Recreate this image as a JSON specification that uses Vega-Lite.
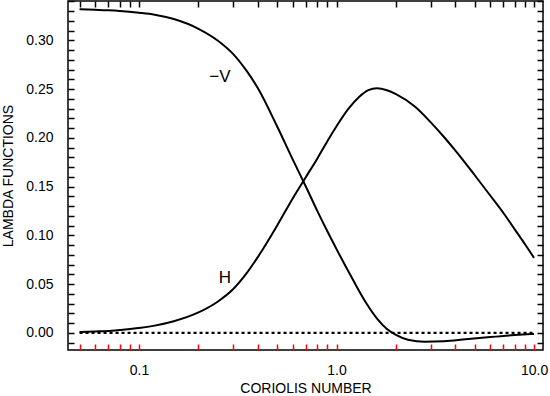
{
  "$schema": "https://vega.github.io/schema/vega-lite/v6.json",
  "width": 475,
  "height": 349,
  "autosize": {"type": "none"},
  "padding": {"left": 68, "top": 1, "right": 7, "bottom": 46},
  "background": "white",
  "config": {
    "view": {"stroke": "black", "strokeWidth": 1.5},
    "axis": {
      "grid": false,
      "domain": false,
      "labelFont": "Liberation Sans",
      "labelFontSize": 14,
      "labelColor": "black",
      "titleFont": "Liberation Sans",
      "titleFontSize": 14,
      "titleFontWeight": "normal",
      "titleColor": "black"
    }
  },
  "datasets": {
    "H": [
      {"x": 0.05, "y": 0.001}, {"x": 0.06, "y": 0.0015}, {"x": 0.07, "y": 0.002}, {"x": 0.08, "y": 0.003},
      {"x": 0.1, "y": 0.005}, {"x": 0.12, "y": 0.0075}, {"x": 0.15, "y": 0.012}, {"x": 0.2, "y": 0.021},
      {"x": 0.25, "y": 0.032}, {"x": 0.3, "y": 0.045}, {"x": 0.35, "y": 0.061}, {"x": 0.4, "y": 0.078},
      {"x": 0.5, "y": 0.11}, {"x": 0.6, "y": 0.138}, {"x": 0.7, "y": 0.16}, {"x": 0.8, "y": 0.179},
      {"x": 0.9, "y": 0.197}, {"x": 1.0, "y": 0.212}, {"x": 1.15, "y": 0.23}, {"x": 1.3, "y": 0.242},
      {"x": 1.45, "y": 0.249}, {"x": 1.6, "y": 0.251}, {"x": 1.8, "y": 0.249}, {"x": 2.0, "y": 0.245},
      {"x": 2.5, "y": 0.232}, {"x": 3.0, "y": 0.216}, {"x": 3.5, "y": 0.201}, {"x": 4.0, "y": 0.187},
      {"x": 5.0, "y": 0.162}, {"x": 6.0, "y": 0.141}, {"x": 7.0, "y": 0.123}, {"x": 8.0, "y": 0.106},
      {"x": 9.0, "y": 0.091}, {"x": 10.0, "y": 0.077}
    ],
    "V": [
      {"x": 0.05, "y": 0.332}, {"x": 0.06, "y": 0.3315}, {"x": 0.07, "y": 0.331}, {"x": 0.08, "y": 0.3303},
      {"x": 0.1, "y": 0.3285}, {"x": 0.12, "y": 0.3265}, {"x": 0.15, "y": 0.322}, {"x": 0.2, "y": 0.312},
      {"x": 0.25, "y": 0.3}, {"x": 0.3, "y": 0.286}, {"x": 0.35, "y": 0.269}, {"x": 0.4, "y": 0.251},
      {"x": 0.5, "y": 0.212}, {"x": 0.6, "y": 0.178}, {"x": 0.7, "y": 0.15}, {"x": 0.8, "y": 0.125},
      {"x": 0.9, "y": 0.104}, {"x": 1.0, "y": 0.086}, {"x": 1.2, "y": 0.056}, {"x": 1.4, "y": 0.032},
      {"x": 1.6, "y": 0.015}, {"x": 1.8, "y": 0.004}, {"x": 2.0, "y": -0.002}, {"x": 2.3, "y": -0.007},
      {"x": 2.8, "y": -0.009}, {"x": 3.5, "y": -0.0085}, {"x": 4.5, "y": -0.0065}, {"x": 6.0, "y": -0.0042},
      {"x": 8.0, "y": -0.0022}, {"x": 10.0, "y": -0.001}
    ],
    "Z": [{"x": 0.05, "y": 0}, {"x": 10.0, "y": 0}],
    "labels": [
      {"x": 0.257, "y": 0.263, "t": "−V"},
      {"x": 0.272, "y": 0.056, "t": "H"}
    ]
  },
  "layer": [
    {
      "data": {"name": "H"},
      "mark": {"type": "line", "color": "black", "strokeWidth": 2, "interpolate": "monotone"},
      "encoding": {
        "x": {"field": "x", "type": "quantitative",
          "scale": {"type": "log", "domain": [0.0437, 11.1], "nice": false},
          "axis": {"orient": "bottom", "title": "CORIOLIS NUMBER",
            "values": [0.05, 0.06, 0.07, 0.08, 0.09, 0.1, 0.2, 0.3, 0.4, 0.5, 0.6, 0.7, 0.8, 0.9, 1, 2, 3, 4, 5, 6, 7, 8, 9, 10],
            "labelExpr": "(datum.value == 0.1 || datum.value == 1 || datum.value == 10) ? format(datum.value, '.1f') : ''",
            "ticks": true, "tickColor": "red", "tickWidth": 1.5,
            "tickSize": -6, "labelPadding": 19}},
        "y": {"field": "y", "type": "quantitative",
          "scale": {"domain": [-0.0175, 0.3405], "nice": false, "zero": false},
          "axis": {"orient": "left", "title": "LAMBDA FUNCTIONS",
            "values": [-0.01, 0, 0.01, 0.02, 0.03, 0.04, 0.05, 0.06, 0.07, 0.08, 0.09, 0.1, 0.11, 0.12, 0.13, 0.14, 0.15, 0.16, 0.17, 0.18, 0.19, 0.2, 0.21, 0.22, 0.23, 0.24, 0.25, 0.26, 0.27, 0.28, 0.29, 0.3, 0.31, 0.32, 0.33, 0.34],
            "labelExpr": "abs(datum.value * 20 - round(datum.value * 20)) < 0.001 && datum.value >= 0 ? format(datum.value, '.2f') : ''",
            "ticks": true, "tickColor": "black", "tickWidth": 1.5,
            "tickSize": -6, "labelPadding": 21, "titlePadding": 10}}
      }
    },
    {
      "data": {"name": "V"},
      "mark": {"type": "line", "color": "black", "strokeWidth": 2, "interpolate": "monotone"},
      "encoding": {
        "x": {"field": "x", "type": "quantitative",
          "scale": {"type": "log", "domain": [0.0437, 11.1], "nice": false},
          "axis": {"orient": "top", "title": null, "labels": false,
            "values": [0.05, 0.06, 0.07, 0.08, 0.09, 0.1, 0.2, 0.3, 0.4, 0.5, 0.6, 0.7, 0.8, 0.9, 1, 2, 3, 4, 5, 6, 7, 8, 9, 10],
            "ticks": true, "tickColor": "black", "tickWidth": 1.5, "tickSize": -6}},
        "y": {"field": "y", "type": "quantitative",
          "scale": {"domain": [-0.0175, 0.3405], "nice": false, "zero": false},
          "axis": {"orient": "right", "title": null, "labels": false,
            "values": [-0.01, 0, 0.01, 0.02, 0.03, 0.04, 0.05, 0.06, 0.07, 0.08, 0.09, 0.1, 0.11, 0.12, 0.13, 0.14, 0.15, 0.16, 0.17, 0.18, 0.19, 0.2, 0.21, 0.22, 0.23, 0.24, 0.25, 0.26, 0.27, 0.28, 0.29, 0.3, 0.31, 0.32, 0.33, 0.34],
            "ticks": true, "tickColor": "black", "tickWidth": 1.5, "tickSize": -6}}
      }
    },
    {
      "data": {"name": "Z"},
      "mark": {"type": "line", "color": "black", "strokeWidth": 2.2, "strokeDash": [3, 3]},
      "encoding": {
        "x": {"field": "x", "type": "quantitative",
          "scale": {"type": "log", "domain": [0.0437, 11.1], "nice": false}, "axis": null},
        "y": {"field": "y", "type": "quantitative",
          "scale": {"domain": [-0.0175, 0.3405], "nice": false, "zero": false}, "axis": null}
      }
    },
    {
      "data": {"name": "labels"},
      "mark": {"type": "text", "font": "Liberation Sans", "fontSize": 17, "color": "black", "align": "center", "baseline": "middle"},
      "encoding": {
        "text": {"field": "t"},
        "x": {"field": "x", "type": "quantitative",
          "scale": {"type": "log", "domain": [0.0437, 11.1], "nice": false}, "axis": null},
        "y": {"field": "y", "type": "quantitative",
          "scale": {"domain": [-0.0175, 0.3405], "nice": false, "zero": false}, "axis": null}
      }
    }
  ],
  "resolve": {"axis": {"x": "independent", "y": "independent"}}
}
